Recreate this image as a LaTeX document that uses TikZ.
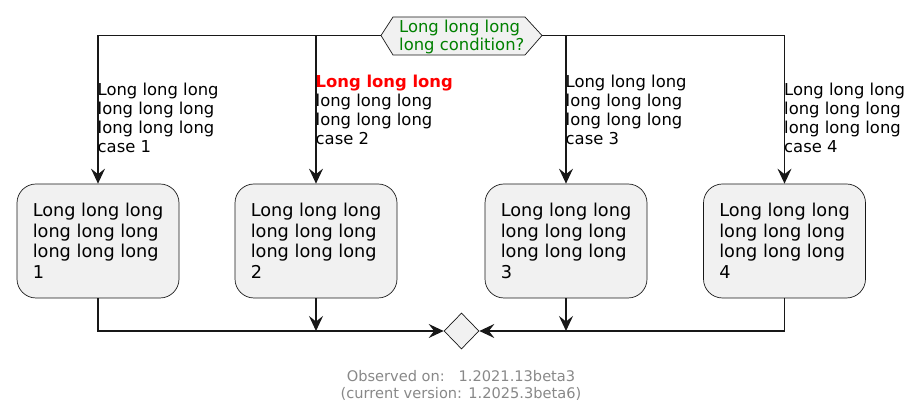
\documentclass[tikz,border=0pt]{standalone}
\usepackage{fontspec}
\setmainfont{DejaVu Sans}
\usetikzlibrary{arrows.meta,shapes.geometric}
\definecolor{boxfill}{HTML}{F1F1F1}
\definecolor{linec}{HTML}{181818}
\definecolor{condgreen}{HTML}{008000}
\definecolor{footgray}{HTML}{888888}
\tikzset{
  flow/.style={draw=linec, line width=1.3pt},
  arr/.style={flow, -{Stealth[length=15pt,width=14pt,inset=5.5pt]}},
  actbox/.style={draw=linec, line width=0.7pt, fill=boxfill, rounded corners=19pt,
    minimum width=162pt, minimum height=114pt, inner sep=0pt, align=left,
    font=\fontsize{17.7}{20.5}\selectfont},
  lbl/.style={anchor=north west, inner sep=0pt, align=left,
    font=\fontsize{16.4}{19.1}\selectfont},
  merge/.style={diamond, draw=linec, line width=0.7pt, fill=boxfill, inner sep=0pt,
    minimum width=35pt, minimum height=36pt},
}
\begin{document}
\begin{tikzpicture}[x=1pt,y=-1pt]
\useasboundingbox (0,0) rectangle (922,419);
% condition hexagon
\coordinate (cL) at (381,35.5);
\coordinate (cR) at (542,35.5);
\draw[draw=linec, line width=0.7pt, fill=boxfill]
  (cL) -- (393,17) -- (525,17) -- (cR) -- (525,55) -- (393,55) -- cycle;
\node[anchor=north west, inner sep=0pt, align=left, text=condgreen,
  font=\fontsize{16.4}{18.5}\selectfont] (cond) at (399,19.8)
  {Long long long\\long condition?};
% activity boxes
\node[actbox] (b1) at (98,241) {Long long long\\long long long\\long long long\\1};
\node[actbox] (b2) at (316,241) {Long long long\\long long long\\long long long\\2};
\node[actbox] (b3) at (566,241) {Long long long\\long long long\\long long long\\3};
\node[actbox] (b4) at (784.5,241) {Long long long\\long long long\\long long long\\4};
% merge diamond
\node[merge] (m) at (461.5,331) {};
% branches
\draw[arr] (cL) -| (b1.north);
\draw[arr] (cL -| b2.north) -- (b2.north);
\draw[arr] (cR) -| (b4.north);
\draw[arr] (cR -| b3.north) -- (b3.north);
% branch labels
\node[lbl] (l1) at (97.5,82.5) {Long long long\\long long long\\long long long\\case 1};
\node[lbl] (l2) at (315.5,74.8) {\textcolor{red}{\bfseries Long long long}\\long long long\\long long long\\case 2};
\node[lbl] (l3) at (565.5,74.8) {Long long long\\long long long\\long long long\\case 3};
\node[lbl] (l4) at (784,82.5) {Long long long\\long long long\\long long long\\case 4};
% joins
\draw[arr] (b1.south) |- (m.west);
\draw[arr] (b2.south) -- (b2.south |- m.west);
\draw[arr] (b3.south) -- (b3.south |- m.east);
\draw[arr] (b4.south) |- (m.east);
% footer
\node[anchor=north, inner sep=0pt, align=center, text=footgray,
  font=\fontsize{14.6}{17.3}\selectfont] (foot) at (461,370.2)
  {Observed on:\ \ \ 1.2021.13beta3\\(current version: 1.2025.3beta6)};
\end{tikzpicture}
\end{document}
